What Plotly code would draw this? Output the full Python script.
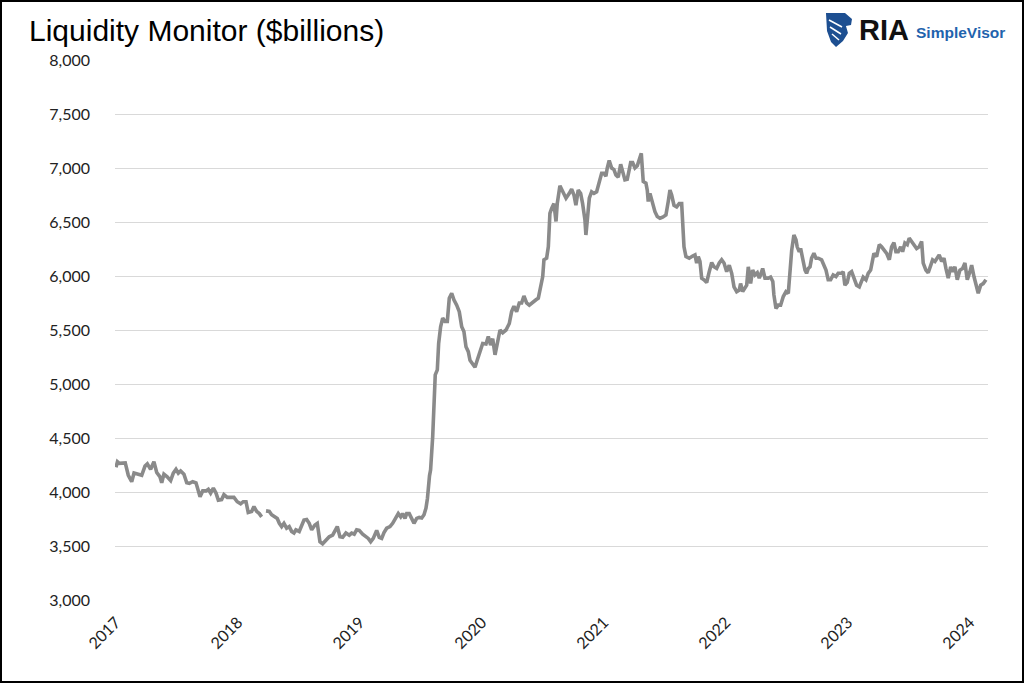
import plotly.graph_objects as go

# weekly readings, x in decimal years, values in $billions (None = gap in the source data)
years = [
    2017.000, 2017.012, 2017.027, 2017.055, 2017.076, 2017.101, 2017.129, 2017.148, 2017.183, 2017.211,
    2017.238, 2017.257, 2017.284, 2017.311, 2017.334, 2017.361, 2017.375, 2017.393, 2017.420, 2017.448,
    2017.470, 2017.492, 2017.511, 2017.530, 2017.557, 2017.580, 2017.601, 2017.629, 2017.656, 2017.666,
    2017.689, 2017.711, 2017.738, 2017.757, 2017.776, 2017.798, 2017.820, 2017.839, 2017.866, 2017.885,
    2017.912, 2017.940, 2017.967, 2017.994, 2018.022, 2018.043, 2018.066, 2018.084, 2018.112, 2018.131,
    2018.153, 2018.175, 2018.194, 2018.212, 2018.230, 2018.257, 2018.276, 2018.303, 2018.322, 2018.339,
    2018.358, 2018.377, 2018.399, 2018.420, 2018.440, 2018.459, 2018.475, 2018.502, 2018.522, 2018.541,
    2018.563, 2018.584, 2018.604, 2018.631, 2018.650, 2018.672, 2018.694, 2018.721, 2018.748, 2018.776,
    2018.795, 2018.814, 2018.836, 2018.858, 2018.885, 2018.912, 2018.932, 2018.953, 2018.973, 2018.994,
    2019.022, 2019.049, 2019.068, 2019.088, 2019.109, 2019.137, 2019.158, 2019.178, 2019.197, 2019.219,
    2019.246, 2019.268, 2019.295, 2019.314, 2019.334, 2019.350, 2019.369, 2019.383, 2019.404, 2019.424,
    2019.443, 2019.465, 2019.486, 2019.506, 2019.525, 2019.541, 2019.553, 2019.570, 2019.579, 2019.596,
    2019.601, 2019.612, 2019.617, 2019.634, 2019.645, 2019.661, 2019.678, 2019.697, 2019.716, 2019.732,
    2019.752, 2019.770, 2019.793, 2019.814, 2019.834, 2019.852, 2019.869, 2019.888, 2019.902, 2019.924,
    2019.943, 2019.961, 2019.984, 2020.006, 2020.033, 2020.052, 2020.071, 2020.088, 2020.107, 2020.125,
    2020.148, 2020.170, 2020.197, 2020.224, 2020.243, 2020.262, 2020.284, 2020.306, 2020.325, 2020.344,
    2020.366, 2020.388, 2020.416, 2020.443, 2020.462, 2020.481, 2020.498, 2020.508, 2020.530, 2020.544,
    2020.557, 2020.571, 2020.590, 2020.607, 2020.617, 2020.639, 2020.661, 2020.689, 2020.716, 2020.735,
    2020.754, 2020.770, 2020.789, 2020.809, 2020.825, 2020.844, 2020.852, 2020.863, 2020.880, 2020.899,
    2020.918, 2020.940, 2020.961, 2020.981, 2021.000, 2021.016, 2021.027, 2021.043, 2021.063, 2021.082,
    2021.098, 2021.117, 2021.137, 2021.153, 2021.172, 2021.191, 2021.207, 2021.219, 2021.235, 2021.254,
    2021.273, 2021.289, 2021.306, 2021.322, 2021.344, 2021.355, 2021.363, 2021.377, 2021.399, 2021.418,
    2021.437, 2021.459, 2021.481, 2021.508, 2021.527, 2021.541, 2021.555, 2021.574, 2021.596, 2021.617,
    2021.637, 2021.645, 2021.656, 2021.672, 2021.699, 2021.727, 2021.746, 2021.760, 2021.773, 2021.787,
    2021.801, 2021.820, 2021.842, 2021.863, 2021.883, 2021.902, 2021.924, 2021.945, 2021.965, 2021.984,
    2022.006, 2022.027, 2022.047, 2022.066, 2022.088, 2022.109, 2022.120, 2022.137, 2022.156, 2022.170,
    2022.183, 2022.202, 2022.219, 2022.238, 2022.257, 2022.273, 2022.284, 2022.301, 2022.320, 2022.347,
    2022.366, 2022.384, 2022.393, 2022.410, 2022.429, 2022.448, 2022.470, 2022.492, 2022.511, 2022.525,
    2022.539, 2022.557, 2022.574, 2022.584, 2022.601, 2022.612, 2022.629, 2022.648, 2022.661, 2022.675,
    2022.689, 2022.702, 2022.721, 2022.738, 2022.757, 2022.784, 2022.803, 2022.820, 2022.838, 2022.858,
    2022.879, 2022.902, 2022.920, 2022.948, 2022.961, 2022.975, 2022.994, 2023.011, 2023.030, 2023.049,
    2023.071, 2023.093, 2023.112, 2023.125, 2023.148, 2023.166, 2023.186, 2023.202, 2023.213, 2023.235,
    2023.257, 2023.276, 2023.295, 2023.317, 2023.339, 2023.358, 2023.377, 2023.393, 2023.412, 2023.432,
    2023.448, 2023.467, 2023.486, 2023.502, 2023.522, 2023.541, 2023.563, 2023.584, 2023.604, 2023.617,
    2023.639, 2023.658, 2023.677, 2023.694, 2023.713, 2023.727, 2023.748, 2023.768, 2023.787, 2023.803,
    2023.822, 2023.842, 2023.858, 2023.877, 2023.896, 2023.918, 2023.940, 2023.959, 2023.978, 2024.000,
    2024.014, 2024.033, 2024.049, 2024.068, 2024.088, 2024.109, 2024.131,
]

liquidity = [
    4230, 4280, 4265, 4270, 4270, 4155, 4095, 4175, 4165, 4155,
    4240, 4260, 4210, 4280, 4180, 4140, 4085, 4165, 4140, 4105,
    4175, 4210, 4175, 4195, 4165, 4085, 4080, 4095, 4085, 4035,
    3955, 4010, 4010, 4025, 3990, 4035, 3990, 3925, 3930, 3975,
    3950, 3950, 3950, 3910, 3890, 3910, 3910, 3810, 3820, 3865,
    3820, 3800, 3770, None, 3825, 3820, 3790, 3765, 3755, 3710,
    3680, 3710, 3665, 3680, 3635, 3620, 3650, 3635, 3680, 3740,
    3745, 3710, 3650, 3695, 3710, 3540, 3520, 3555, 3585, 3600,
    3635, 3680, 3585, 3580, 3620, 3600, 3620, 3610, 3650, 3645,
    3610, 3585, 3570, 3540, 3570, 3645, 3580, 3570, 3625, 3665,
    3680, 3710, 3755, 3800, 3770, 3800, 3755, 3800, 3800, 3755,
    3710, 3755, 3765, 3760, 3790, 3850, 3940, 4150, 4205, 4510,
    4730, 4945, 5085, 5130, 5375, 5530, 5610, 5580, 5580, 5795,
    5840, 5780, 5730, 5670, 5530, 5485, 5345, 5300, 5220, 5185,
    5155, 5220, 5315, 5375, 5370, 5440, 5360, 5420, 5270, 5375,
    5500, 5475, 5500, 5560, 5670, 5720, 5670, 5750, 5750, 5815,
    5750, 5730, 5760, 5780, 5795, 5885, 5995, 6150, 6165, 6270,
    6580, 6625, 6670, 6505, 6670, 6835, 6780, 6720, 6765, 6805,
    6750, 6655, 6795, 6765, 6670, 6520, 6380, 6550, 6720, 6780,
    6765, 6780, 6875, 6950, 6950, 6925, 7000, 7070, 7000, 6985,
    6935, 6915, 7035, 6980, 6890, 6895, 6980, 7050, 7050, 7000,
    7020, 7090, 7135, 6875, 6860, 6795, 6690, 6765, 6655, 6595,
    6550, 6535, 6545, 6565, 6690, 6795, 6750, 6655, 6640, 6670,
    6670, 6490, 6270, 6180, 6165, 6185, 6195, 6120, 6180, 6135,
    5980, 5965, 5940, 6040, 6125, 6085, 6070, 6120, 6150, 6120,
    6040, 6100, 6025, 5900, 5855, 5870, 5930, 5855, 5900, 5915,
    6085, 5930, 6055, 6010, 6030, 5980, 6010, 6070, 5980, 5980,
    5990, 5950, 5825, 5700, 5730, 5730, 5810, 5855, 5840, 6025,
    6240, 6380, 6335, 6270, 6225, 6255, 6150, 6055, 6025, 6070,
    6085, 6165, 6210, 6165, 6165, 6150, 6100, 6055, 5965, 5965,
    6010, 5995, 6025, 6025, 6040, 5915, 5940, 6025, 6040, 5980,
    5915, 5900, 5950, 5990, 5965, 6025, 6055, 6180, 6210, 6180,
    6290, 6270, 6240, 6210, 6150, 6270, 6310, 6225, 6225, 6270,
    6225, 6305, 6290, 6350, 6320, 6290, 6255, 6270, 6320, 6120,
    6055, 6030, 6085, 6150, 6135, 6165, 6195, 6135, 6165, 6070,
    5980, 6085, 6040, 6085, 5965, 6055, 6070, 6120, 5965, 6040,
    6100, 5995, 5930, 5840, 5915, 5930, 5965,
]

year_ticks = [2017, 2018, 2019, 2020, 2021, 2022, 2023, 2024]
y_ticks = [3000, 3500, 4000, 4500, 5000, 5500, 6000, 6500, 7000, 7500, 8000]

W, H = 1024, 683
L, R, T, B = 115, 36, 60, 83


def px(x, y):
    # pixel position on the page -> paper coords
    return (x - L) / (W - L - R), (H - B - y) / (H - T - B)


fig = go.Figure()

fig.add_trace(
    go.Scatter(
        x=years,
        y=liquidity,
        mode="lines",
        line={"color": "#8a8a8a", "width": 3.6},
        connectgaps=False,
        showlegend=False,
        hovertemplate="%{y:,.0f}<extra></extra>",
    )
)

# black frame round the picture
x0, y1 = px(1, 1)
x1, y0 = px(W - 1, H - 1)
shapes = [dict(type="rect", xref="paper", yref="paper", x0=x0, y0=y0, x1=x1, y1=y1,
               line={"color": "black", "width": 2}, layer="above")]

# eagle mark of the logo
eagle = [(826, 13), (845, 13), (852, 19), (851, 25), (846, 26), (848, 33),
         (843, 41), (836, 47), (831, 42), (827, 31)]
path = "M " + " L ".join("%.4f,%.4f" % px(a, b) for a, b in eagle) + " Z"
shapes.append(dict(type="path", xref="paper", yref="paper", path=path,
                   fillcolor="#1d4f91", line={"width": 0}, layer="above"))
for (a, b), (c, d) in [((829, 20), (842, 27)), ((830, 27), (841, 34)), ((832, 34), (839, 40))]:
    xa, ya = px(a, b)
    xc, yc = px(c, d)
    shapes.append(dict(type="line", xref="paper", yref="paper", x0=xa, y0=ya, x1=xc, y1=yc,
                       line={"color": "white", "width": 1.5}, layer="above"))

annotations = []
ax, ay = px(857, 30)
annotations.append(dict(xref="paper", yref="paper", x=ax, y=ay, xanchor="left", yanchor="middle",
                        text="<b>RIA</b>", showarrow=False,
                        font=dict(family="Liberation Sans, Arial", size=29, color="#111111")))
ax, ay = px(914, 32)
annotations.append(dict(xref="paper", yref="paper", x=ax, y=ay, xanchor="left", yanchor="middle",
                        text="<b>SimpleVisor</b>", showarrow=False,
                        font=dict(family="Liberation Sans, Arial", size=15.5, color="#1f63ad")))

fig.update_layout(
    width=W,
    height=H,
    margin={"l": L, "r": R, "t": T, "b": B, "pad": 0},
    paper_bgcolor="white",
    plot_bgcolor="white",
    title=dict(
        text="Liquidity Monitor ($billions)",
        xref="container", yref="container",
        x=29 / W, y=1 - 30 / H, xanchor="left", yanchor="middle",
        font=dict(family="Liberation Sans, Arial", size=30, color="black"),
    ),
    xaxis=dict(
        range=[2016.992, 2024.148],
        tickvals=year_ticks,
        ticktext=[str(v) for v in year_ticks],
        tickangle=-45,
        showgrid=False,
        zeroline=False,
        showline=False,
        ticks="",
        ticklabelstandoff=9,
        tickfont=dict(family="Lato, Carlito, sans-serif", size=16, color="#222222"),
    ),
    yaxis=dict(
        range=[3000, 8000],
        tickvals=y_ticks,
        tickformat=",",
        showgrid=True,
        gridcolor="#d9d9d9",
        gridwidth=1.3,
        zeroline=False,
        showline=False,
        ticks="",
        ticklabelstandoff=24,
        tickfont=dict(family="Lato, Carlito, sans-serif", size=16, color="#222222"),
    ),
    shapes=shapes,
    annotations=annotations,
)

fig.write_html("out.html", config={"displayModeBar": False},
               post_script="document.body.style.margin='0';")
